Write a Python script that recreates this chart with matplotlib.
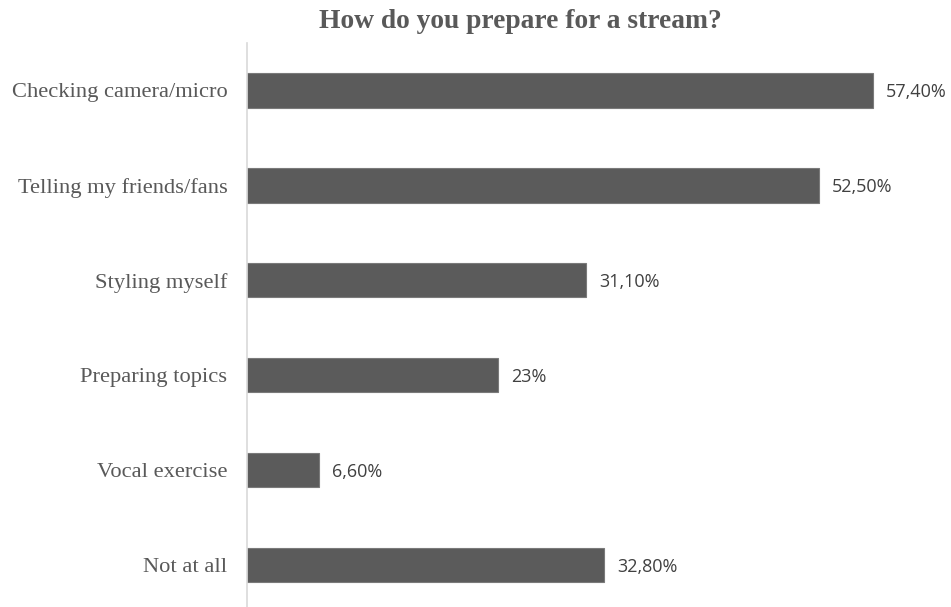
import matplotlib.pyplot as plt

categories = ["Checking camera/micro", "Telling my friends/fans", "Styling myself",
              "Preparing topics", "Vocal exercise", "Not at all"]
values = [57.4, 52.5, 31.1, 23.0, 6.6, 32.8]
value_labels = ["57,40%", "52,50%", "31,10%", "23%", "6,60%", "32,80%"]

W, H = 951, 607
fig = plt.figure(figsize=(W / 100, H / 100), dpi=100)
# plot area: left edge at the category axis line, top just under the title
ax = fig.add_axes([247 / W, 0, 1 - 247 / W, 1 - 43 / H])

pos = list(range(len(categories)))
ax.barh(pos, values, height=0.36, color="#5b5b5b", edgecolor="#7a7a7a", linewidth=0.8)

ax.set_xlim(0, 64.6)
ax.set_ylim(5.44, -0.5)

for spine in ["top", "right", "bottom"]:
    ax.spines[spine].set_visible(False)
ax.spines["left"].set_color("#d9d9d9")
ax.spines["left"].set_linewidth(1.2)

ax.set_xticks([])
ax.set_yticks(pos)
ax.set_yticklabels(categories, family="Liberation Serif", fontsize=16.2, color="#595959")
ax.tick_params(axis="y", length=0, pad=14)

for y, v, lab in zip(pos, values, value_labels):
    ax.text(v + 1.2, y + 0.02, lab, va="center", ha="left", family="Open Sans",
            fontsize=13, color="#404040")

fig.text(520 / W, 1 - 22 / H, "How do you prepare for a stream?", ha="center", va="center",
         family="Liberation Serif", fontweight="bold", fontsize=19.8, color="#595959")

fig.savefig("out.png", dpi=100)
